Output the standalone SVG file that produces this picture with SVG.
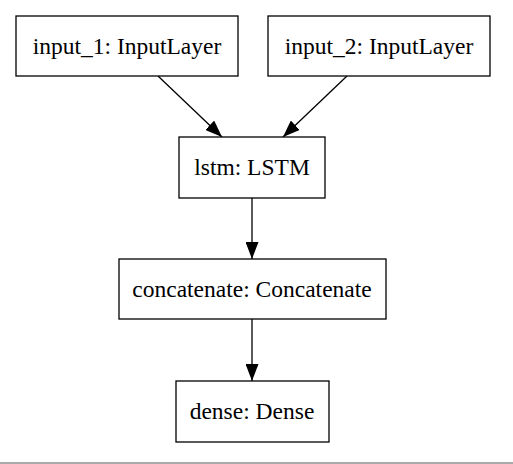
<svg xmlns="http://www.w3.org/2000/svg" width="513" height="464" viewBox="0 0 513 464">
<defs>
<style>
.box{fill:#fff;stroke:#000;stroke-width:1.3}
.lbl{font-family:"Liberation Serif","Times New Roman",serif;font-size:23.5px;fill:#000;text-anchor:middle}
.edge{stroke:#000;stroke-width:1.3;fill:none}
</style>
<marker id="ah" markerWidth="17" markerHeight="13" viewBox="0 0 17 13" refX="17" refY="6.5" orient="auto" markerUnits="userSpaceOnUse">
<path d="M0,0 L17,6.5 L0,13 z" fill="#000"/>
</marker>
</defs>
<rect width="513" height="464" fill="#fff"/>
<g id="connectors">
<line class="edge" x1="158" y1="76" x2="222" y2="137" marker-end="url(#ah)"/>
<line class="edge" x1="347" y1="76" x2="283" y2="137" marker-end="url(#ah)"/>
<line class="edge" x1="252" y1="198" x2="252" y2="259" marker-end="url(#ah)"/>
<line class="edge" x1="252" y1="319" x2="252" y2="381" marker-end="url(#ah)"/>
</g>
<g id="input_1"><rect class="box" x="16" y="16" width="222" height="60"/><text class="lbl" x="127" y="54">input_1: InputLayer</text></g>
<g id="input_2"><rect class="box" x="268" y="16" width="222" height="60"/><text class="lbl" x="379" y="54">input_2: InputLayer</text></g>
<g id="lstm"><rect class="box" x="179" y="137" width="146" height="61"/><text class="lbl" x="252" y="175">lstm: LSTM</text></g>
<g id="concatenate"><rect class="box" x="119" y="259" width="267" height="60"/><text class="lbl" x="252" y="297">concatenate: Concatenate</text></g>
<g id="dense"><rect class="box" x="176" y="381" width="153" height="61"/><text class="lbl" x="252" y="419">dense: Dense</text></g>
<rect x="0" y="462" width="513" height="2" fill="#aaa"/>
</svg>
